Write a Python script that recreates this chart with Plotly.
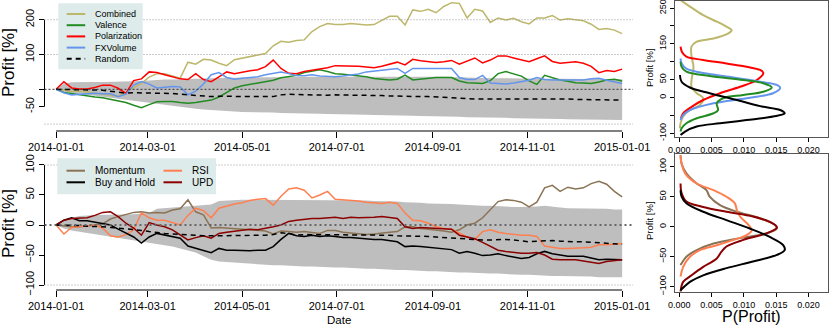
import pandas as pd
import plotly.graph_objects as go

W, H = 830, 326

# ---------------- data ----------------
dates = pd.date_range("2014-01-01", periods=74, freq="5D")
tick_dates = ["2014-01-01", "2014-03-01", "2014-05-01", "2014-07-01",
              "2014-09-01", "2014-11-01", "2015-01-01"]

combined = [0, -3, -6, -5, -8, -10, -12, -15, -20, -8,
            5, 17, 35, 45, 45, 38, 32, 78, 72, 86,
            84, 75, 68, 85, 90, 94, 98, 103, 125, 138,
            135, 140, 142, 166, 180, 189, 186, 186, 189, 187,
            185, 186, 199, 210, 210, 185, 228, 224, 230, 220,
            238, 249, 247, 205, 230, 225, 192, 205, 199, 204,
            194, 188, 205, 205, 212, 199, 203, 199, 197, 187,
            172, 175, 170, 160]
valence = [0, -9, -12, -16, -19, -22, -24, -28, -33, -38,
           -46, -53, -44, -36, -35, -35, -38, -40, -38, -34,
           -31, -22, -8, 4, 10, 14, 17, 20, 26, 33,
           36, 40, 48, 52, 56, 51, 45, 43, 41, 38,
           36, 31, 28, 27, 29, 41, 27, 29, 33, 34,
           34, 34, 24, 19, 18, 17, 25, 45, 51, 44,
           38, 24, 14, 40, 33, 27, 23, 19, 18, 17,
           21, 27, 29, 24]
polarization = [0, 22, 4, 1, 1, 5, 12, 12, 3, -12,
                25, 30, 50, 48, 42, 37, 30, 28, 45, 28,
                22, 36, 50, 45, 50, 53, 56, 65, 84, 60,
                46, 45, 51, 54, 57, 62, 68, 68, 67, 66,
                64, 62, 66, 72, 78, 70, 86, 82, 79, 77,
                79, 83, 72, 80, 90, 76, 84, 96, 96, 90,
                85, 79, 88, 96, 80, 75, 77, 79, 75, 66,
                48, 54, 51, 58]
fxvolume = [0, -10, -16, -14, -12, -11, -13, -13, -21, -14,
            12, 22, 15, 4, 6, 8, 7, -16, -5, 15,
            42, 48, 34, 29, 32, 34, 36, 42, 46, 50,
            45, 40, 39, 42, 38, 37, 36, 38, 41, 44,
            50, 53, 56, 59, 60, 46, 60, 60, 60, 60,
            60, 60, 34, 28, 28, 40, 18, 16, 15, 18,
            22, 26, 34, 28, 27, 27, 28, 29, 27, 30,
            32, 26, 22, 17]
random_top = [0, 0, -1, -2, -2, -2, -3, -6, -9, -11,
              -10, -10, -10, -11, -12, -12, -14, -16, -18, -20,
              -21, -20, -20, -20, -21, -21, -21, -21, -21, -16,
              -14, -15, -16, -17, -17, -17, -16, -16, -17, -17,
              -18, -18, -18, -19, -20, -20, -21, -21, -21, -21,
              -23, -24, -26, -27, -28, -28, -28, -28, -28, -27,
              -27, -27, -26, -27, -27, -28, -28, -29, -29, -30,
              -31, -31, -31, -31]
band_top_hi = [0, 16, 20, 21, 21, 21, 21, 21, 22, 22,
               23, 24, 26, 27, 28, 28, 29, 30, 31, 31,
               32, 32, 33, 33, 33, 34, 34, 34, 35, 35,
               35, 36, 36, 37, 37, 37, 37, 37, 38, 38,
               38, 38, 38, 38, 37, 37, 37, 37, 36, 36,
               36, 35, 34, 33, 33, 32, 32, 32, 31, 31,
               31, 31, 30, 30, 30, 30, 30, 30, 29, 29,
               29, 29, 29, 29]
band_top_lo = [0, -7, -10, -13, -16, -19, -22, -25, -28, -31,
               -34, -37, -40, -43, -46, -48, -51, -54, -56, -58,
               -60, -62, -63, -64, -65, -65, -66, -67, -67, -68,
               -68, -69, -69, -70, -70, -71, -71, -72, -72, -73,
               -73, -74, -74, -75, -75, -76, -76, -77, -77, -78,
               -78, -79, -79, -80, -80, -81, -81, -82, -82, -83,
               -83, -84, -84, -85, -85, -85, -86, -86, -86, -87,
               -87, -87, -88, -88]

momentum = [0, -2, -3, -3, -2, 0, 2, 10, 14, 18,
            21, 22, 20, 21, 20, 25, 27, 42, 22, 17,
            -5, -4, -5, -6, -6, -7, -8, -10, -15, -10,
            -11, -12, -11, -13, -14, -9, -9, -12, -13, -14,
            -16, -15, -13, -12, -11, -3, -3, -6, -7, -8,
            -10, -12, -8, 0, 3, 12, 25, 39, 42, 41,
            38, 30, 38, 62, 66, 56, 63, 60, 62, 69,
            73, 68, 56, 47]
rsi = [0, -15, -4, -3, -2, 0, -5, -18, -20, -16,
       -8, 20, 12, 8, 8, 4, 0, 16, 28, 24,
       12, 28, 32, 35, 37, 41, 43, 44, 33, 48,
       60, 62, 58, 45, 50, 56, 43, 42, 42, 40,
       38, 37, 36, 38, 36, 20, 8, 7, 3, -3,
       -6, -7, -14, -20, -24, -11, -8, -12, -14, -16,
       -17, -17, -19, -35, -37, -39, -39, -39, -38, -37,
       -33, -33, -32, -31]
buy_hold = [0, 8, 12, 7, 7, 5, 3, 0, -7, -14,
            -20, -30, -20, -14, -17, -19, -22, -35, -39, -42,
            -46, -39, -42, -42, -43, -43, -42, -42, -36, -24,
            -14, -18, -19, -17, -19, -18, -19, -21, -21, -22,
            -24, -24, -24, -26, -28, -36, -35, -36, -37, -38,
            -39, -41, -47, -44, -47, -51, -50, -48, -51, -54,
            -56, -54, -48, -44, -48, -50, -52, -52, -52, -55,
            -58, -57, -57, -58]
upd = [0, 8, 11, 11, 12, 16, 21, 22, 14, 3,
       -5, -17, 4, 0, -3, -8, -16, -25, -21, -18,
       -22, -14, -12, -10, -8, -7, -8, -6, -3, 0,
       6, 8, 10, 11, 11, 12, 13, 11, 13, 12,
       12, 13, 14, 12, 11, -3, -6, -4, -5, -6,
       -6, -7, -17, -20, -23, -29, -36, -42, -44, -46,
       -47, -47, -46, -50, -57, -58, -58, -58, -60, -62,
       -64, -61, -60, -58]
random_bot = [0, 0, -1, -1, -2, -2, -3, -4, -5, -7,
              -8, -9, -11, -13, -14, -15, -16, -17, -18, -18,
              -18, -18, -18, -18, -18, -17, -17, -17, -16, -13,
              -14, -17, -16, -16, -16, -16, -17, -17, -17, -16,
              -16, -16, -16, -17, -18, -18, -19, -19, -19, -20,
              -21, -21, -22, -23, -24, -25, -25, -24, -24, -25,
              -26, -28, -27, -26, -26, -27, -28, -28, -28, -29,
              -30, -31, -32, -32]
band_bot_hi = [0, 8, 12, 15, 16, 17, 17, 17, 17, 18,
               18, 19, 20, 27, 28, 28, 29, 30, 31, 32,
               34, 40, 41, 42, 42, 42, 42, 42, 42, 42,
               42, 42, 42, 42, 42, 42, 41, 41, 41, 41,
               41, 40, 40, 40, 39, 38, 38, 37, 36, 36,
               35, 35, 34, 33, 33, 32, 32, 31, 30, 30,
               30, 30, 31, 32, 30, 29, 28, 28, 28, 27,
               27, 27, 26, 26]
band_bot_lo = [0, -6, -9, -11, -13, -15, -17, -19, -21, -23,
               -25, -27, -29, -31, -34, -36, -39, -42, -46, -52,
               -58, -61, -62, -63, -64, -65, -66, -66, -67, -67,
               -68, -68, -69, -69, -70, -70, -71, -71, -72, -72,
               -73, -73, -74, -74, -75, -75, -76, -76, -77, -77,
               -78, -78, -79, -79, -80, -80, -81, -81, -82, -82,
               -83, -83, -84, -84, -85, -85, -85, -86, -86, -86,
               -87, -87, -87, -87]

# density curves: profit level and P(profit)
dens_comb_v = [272, 254, 230, 212, 198, 188, 179, 165, 156, 142, 114, 86, 49, 30, 12, -2, -21, -35, -53, -72, -86]
dens_comb_p = [0.0002, 0.00165, 0.0037, 0.0058, 0.0073, 0.0081, 0.0076, 0.0053, 0.0027, 0.0019, 0.0019,
               0.0022, 0.0019, 0.0019, 0.0027, 0.0037, 0.0032, 0.00165, 0.0006, 0.0002, 0.0001]
dens_pol_v = [142, 128, 114, 105, 95, 86, 77, 69, 49, 30, 12, -7, -26, -44, -58]
dens_pol_p = [0.0002, 0.0004, 0.0011, 0.0037, 0.0073, 0.0104, 0.0125, 0.0130, 0.0120, 0.0094, 0.0063,
              0.0037, 0.0019, 0.0006, 0.00026]
dens_fx_v = [109, 95, 81, 67, 56, 44, 35, 26, 12, -2, -16, -35, -49, -63]
dens_fx_p = [0.0002, 0.00036, 0.0011, 0.0042, 0.0084, 0.0125, 0.0151, 0.0156, 0.0145, 0.0104, 0.0053,
             0.00165, 0.0006, 0.0002]
dens_val_v = [100, 86, 72, 60, 49, 40, 28, 16, 7, -2, -16, -35, -44, -58, -72, -86, -95]
dens_val_p = [0.0002, 0.00036, 0.0011, 0.0047, 0.0099, 0.0130, 0.0143, 0.0130, 0.0099, 0.0068, 0.0058,
              0.0060, 0.0053, 0.0027, 0.0011, 0.00036, 0.0002]
dens_rnd_v = [63, 44, 28, 12, -7, -24, -35, -44, -53, -63, -72, -81, -95, -105]
dens_rnd_p = [0.0001, 0.00036, 0.00165, 0.0047, 0.0089, 0.0125, 0.0156, 0.0163, 0.0145, 0.0104, 0.0063,
              0.0027, 0.0009, 0.0002]

dens_mom_v = [119, 105, 89, 72, 61, 50, 36, 25, 14, 3, -3, -11, -19, -28, -39, -50, -61, -64]
dens_mom_p = [0.0002, 0.00036, 0.0011, 0.0027, 0.0042, 0.0047, 0.0063, 0.0089, 0.0125, 0.0148, 0.0151,
              0.0135, 0.0094, 0.0053, 0.0027, 0.0011, 0.00036, 0.0002]
dens_rsi_v = [119, 105, 89, 72, 61, 50, 39, 28, 17, 3, -6, -14, -22, -31, -39, -50, -67, -83]
dens_rsi_p = [0.0002, 0.00036, 0.0009, 0.0027, 0.0053, 0.0073, 0.0086, 0.0089, 0.0094, 0.0107, 0.0112,
              0.0104, 0.0084, 0.0058, 0.0032, 0.00165, 0.0006, 0.0002]
dens_upd_v = [72, 56, 42, 33, 25, 17, 8, -1, -11, -22, -33, -42, -53, -67, -81, -92, -108]
dens_upd_p = [0.0002, 0.00036, 0.0011, 0.0037, 0.0073, 0.0114, 0.0140, 0.0151, 0.0135, 0.0099, 0.0073,
              0.0065, 0.0058, 0.0037, 0.0019, 0.0006, 0.0002]
dens_bh_v = [61, 50, 39, 25, 11, -3, -17, -31, -39, -47, -58, -69, -81, -92, -106]
dens_bh_p = [0.0002, 0.00036, 0.0011, 0.0037, 0.0073, 0.0109, 0.0140, 0.0161, 0.0163, 0.0151, 0.0114,
             0.0073, 0.0037, 0.00165, 0.0002]

# ---------------- styles ----------------
FONT = "Liberation Sans, Arial, sans-serif"
GRAY = "#BEBEBE"
C_COMB, C_VAL, C_POL, C_FX = "#BDB76B", "#228B22", "#FF0000", "#6495ED"
C_MOM, C_RSI, C_UPD, C_BH = "#8B7355", "#FF7F50", "#8B0000", "#000000"
LEG_BG = "#DDEBEA"


def px(x):
    return x / W


def py(y):
    return 1 - y / H


fig = go.Figure()


def line(x, y, color, xa, ya, width=1.5, dash=None, shape="linear"):
    fig.add_trace(go.Scatter(x=x, y=y, mode="lines", xaxis=xa, yaxis=ya,
                             line=dict(color=color, width=width, dash=dash, shape=shape),
                             hoverinfo="skip", showlegend=False))


def band(hi, lo, xa, ya):
    fig.add_trace(go.Scatter(x=dates, y=hi, mode="lines", xaxis=xa, yaxis=ya,
                             line=dict(width=0), hoverinfo="skip", showlegend=False))
    fig.add_trace(go.Scatter(x=dates, y=lo, mode="lines", xaxis=xa, yaxis=ya, fill="tonexty",
                             fillcolor=GRAY, line=dict(width=0), hoverinfo="skip", showlegend=False))


# ====== top time series ======
band(band_top_hi, band_top_lo, "x", "y")
line(dates, combined, C_COMB, "x", "y")
line(dates, valence, C_VAL, "x", "y")
line(dates, polarization, C_POL, "x", "y")
line(dates, fxvolume, C_FX, "x", "y")
line(dates, random_top, "black", "x", "y", dash="5px,4px")

# ====== bottom time series ======
band(band_bot_hi, band_bot_lo, "x2", "y2")
line(dates, momentum, C_MOM, "x2", "y2")
line(dates, rsi, C_RSI, "x2", "y2")
line(dates, buy_hold, C_BH, "x2", "y2")
line(dates, upd, C_UPD, "x2", "y2")
line(dates, random_bot, "black", "x2", "y2", dash="5px,4px")

# ====== densities ======
for p, v, c in [(dens_comb_p, dens_comb_v, C_COMB), (dens_pol_p, dens_pol_v, C_POL),
                (dens_fx_p, dens_fx_v, C_FX), (dens_val_p, dens_val_v, C_VAL),
                (dens_rnd_p, dens_rnd_v, "black")]:
    line(p, v, c, "x3", "y3", width=2, shape="spline")
for p, v, c in [(dens_mom_p, dens_mom_v, C_MOM), (dens_rsi_p, dens_rsi_v, C_RSI),
                (dens_upd_p, dens_upd_v, C_UPD), (dens_bh_p, dens_bh_v, C_BH)]:
    line(p, v, c, "x4", "y4", width=2, shape="spline")

# ---------------- axes ----------------
ts_dom = [px(44.5), px(633)]
dens_dom = [px(675), px(828)]
tick_font = dict(family=FONT, size=11, color="black")
small_font = dict(family=FONT, size=9, color="black")

xdate = dict(type="date", range=["2013-12-24 12:00", "2015-01-08"], tickvals=tick_dates,
             ticktext=tick_dates, ticks="outside", ticklen=6, tickcolor="black", automargin=False,
             showgrid=False, zeroline=False, showline=False, tickfont=tick_font,
             ticklabeloverflow="allow")
ybase = dict(ticks="outside", ticklen=5, tickcolor="black", tickangle=-90, showgrid=False,
             zeroline=False, showline=False, tickfont=tick_font, automargin=False,
             ticklabeloverflow="allow")
xdens = dict(range=[-0.00066, 0.0230], tickvals=[0, 0.005, 0.01, 0.015, 0.02],
             ticktext=["0.000", "0.005", "0.010", "0.015", "0.020"], ticks="outside", ticklen=4,
             tickcolor="black", showgrid=False, zeroline=False, showline=True, mirror=True,
             linecolor="#555", linewidth=1, tickfont=small_font, automargin=False,
             ticklabeloverflow="allow")
ydens = dict(ticks="outside", ticklen=4, tickcolor="black", tickangle=-90, showgrid=False,
             zeroline=False, showline=True, mirror=True, linecolor="#555", linewidth=1,
             tickfont=small_font, automargin=False, ticklabeloverflow="allow")

fig.update_layout(
    template="none", width=W, height=H,
    margin=dict(l=0, r=0, t=0, b=0, pad=0, autoexpand=False),
    paper_bgcolor="white", plot_bgcolor="white", showlegend=False,
    font=dict(family=FONT, color="black"),
    xaxis=dict(xdate, domain=ts_dom, anchor="y"),
    yaxis=dict(ybase, domain=[py(131), 1], anchor="x", range=[-119.8, 256.6],
               tickvals=[-50, 0, 100, 200], ticktext=["-50", "", "100", "200"]),
    xaxis2=dict(xdate, domain=ts_dom, anchor="y2"),
    yaxis2=dict(ybase, domain=[py(290), py(160)], anchor="x2", range=[-108.3, 108.3],
                tickvals=[-100, -50, 0, 50, 100]),
    xaxis3=dict(xdens, domain=dens_dom, anchor="y3"),
    yaxis3=dict(ydens, domain=[py(137), py(1)], anchor="x3", range=[-110.3, 269.6],
                tickvals=[-100, -50, 0, 50, 100, 150, 200, 250],
                ticktext=["-100", "", "0", "50", "", "150", "", "250"]),
    xaxis4=dict(xdens, domain=dens_dom, anchor="y4"),
    yaxis4=dict(ydens, domain=[py(291.7), py(154)], anchor="x4", range=[-108.3, 121.2],
                tickvals=[-100, -50, 0, 50, 100]),
)

shapes = []
# R-style axis lines spanning only the tick range
for xa, ya, y0, y1 in [("x", "y", -50, 200), ("x2", "y2", -100, 100)]:
    shapes.append(dict(type="line", xref=xa + " domain", yref=ya, x0=0, x1=0, y0=y0, y1=y1,
                       line=dict(color="black", width=1)))
    shapes.append(dict(type="line", xref=xa, yref=ya + " domain", x0="2014-01-01", x1="2015-01-01",
                       y0=0, y1=0, line=dict(color="black", width=1)))
# reference lines
for ya, lv in [("y", 200), ("y", 100), ("y", -100), ("y2", 100), ("y2", -100)]:
    shapes.append(dict(type="line", xref=ya.replace("y", "x") + " domain", yref=ya, x0=0, x1=1,
                       y0=lv, y1=lv, layer="above", line=dict(color="#999999", width=1, dash="1px,2px")))
shapes.append(dict(type="line", xref="x domain", yref="y", x0=0, x1=1, y0=0, y1=0, layer="above",
                   line=dict(color="#333333", width=1, dash="2px,2px")))
shapes.append(dict(type="line", xref="x2 domain", yref="y2", x0=0, x1=1, y0=0, y1=0, layer="above",
                   line=dict(color="#666666", width=2, dash="2px,3px")))

annotations = []


def legend_entry(x, y, label, color, dash=None, size=9):
    shapes.append(dict(type="line", xref="paper", yref="paper", x0=px(x), x1=px(x + 18.5),
                       y0=py(y), y1=py(y), line=dict(color=color, width=2, dash=dash)))
    annotations.append(dict(x=px(x + 26), y=py(y), xref="paper", yref="paper", text=label,
                            showarrow=False, xanchor="left", yanchor="middle",
                            font=dict(family=FONT, size=size, color="black")))


# legend boxes
shapes.append(dict(type="rect", xref="paper", yref="paper", x0=px(58.3), x1=px(142.7),
                   y0=py(69.3), y1=py(3.3), fillcolor=LEG_BG, line=dict(width=0), layer="above"))
shapes.append(dict(type="rect", xref="paper", yref="paper", x0=px(57.3), x1=px(216),
                   y0=py(194.3), y1=py(158.3), fillcolor=LEG_BG, line=dict(width=0), layer="above"))
for i, (lab, col, dsh) in enumerate([("Combined", C_COMB, None), ("Valence", C_VAL, None),
                                     ("Polarization", C_POL, None), ("FXVolume", C_FX, None),
                                     ("Random", "black", "5px,4px")]):
    legend_entry(66.7, 14 + 11.2 * i, lab, col, dsh)
legend_entry(66.5, 170.7, "Momentum", C_MOM, size=10)
legend_entry(66.5, 182.3, "Buy and Hold", C_BH, size=10)
legend_entry(163.5, 170.7, "RSI", C_RSI, size=10)
legend_entry(163.5, 182.3, "UPD", C_UPD, size=10)

# titles
for x, y, txt, size, ang in [(8, 63, "Profit [%]", 17, -90), (8, 224, "Profit [%]", 17, -90),
                             (649, 68, "Profit [%]", 9.5, -90), (649, 221, "Profit [%]", 9.5, -90),
                             (339, 319.5, "Date", 11.5, 0), (751, 316.5, "P(Profit)", 16, 0)]:
    annotations.append(dict(x=px(x), y=py(y), xref="paper", yref="paper", text=txt, showarrow=False,
                            textangle=ang, xanchor="center", yanchor="middle",
                            font=dict(family=FONT, size=size, color="black")))

fig.update_layout(shapes=shapes, annotations=annotations)
# keep the fixed-size figure flush with the window (no default page margin / scrollbars)
page_js = ("var s=document.documentElement.style,b=document.body.style;"
           "s.margin=b.margin='0px';s.overflow=b.overflow='hidden';")
fig.write_html("out.html", config={"displayModeBar": False}, post_script=page_js)
